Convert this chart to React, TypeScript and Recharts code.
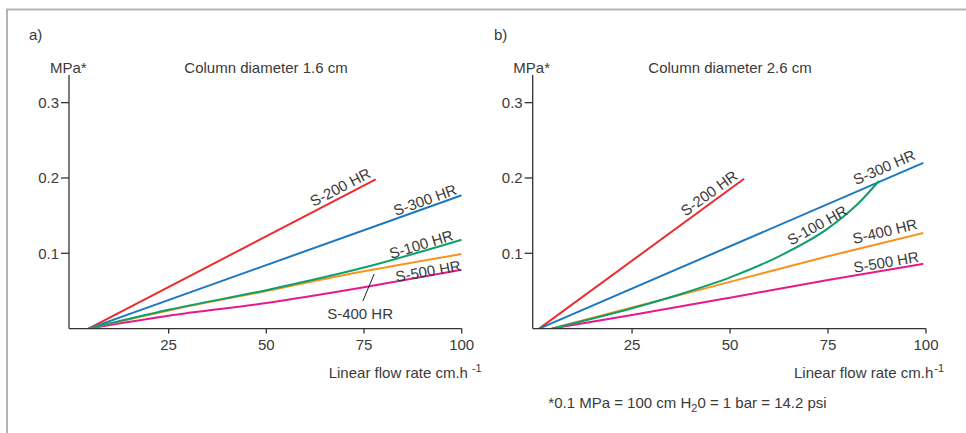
import React from 'react';
import { LineChart, Line, XAxis, YAxis, ReferenceDot, ReferenceLine } from 'recharts';

// ---- panel a: column diameter 1.6 cm ----
const a200Flow = [4.5, 78];
const a200Mpa = [0, 0.198];
const a300Flow = [4.5, 100];
const a300Mpa = [0, 0.177];
const a100Flow = [4.5, 25, 50, 75, 100];
const a100Mpa = [0, 0.025, 0.051, 0.081, 0.118];
const a400Flow = [4.5, 25, 50, 75, 100];
const a400Mpa = [0, 0.024, 0.05, 0.076, 0.099];
const a500Flow = [4.5, 25, 50, 75, 100];
const a500Mpa = [0, 0.017, 0.034, 0.055, 0.078];

// ---- panel b: column diameter 2.6 cm ----
const b200Flow = [1.3, 53.6];
const b200Mpa = [0, 0.199];
const b300Flow = [1.3, 99.3];
const b300Mpa = [0, 0.22];
const b100Flow = [4.5, 25, 37.5, 50, 62.5, 75, 82.5, 88];
const b100Mpa = [0, 0.027, 0.046, 0.068, 0.096, 0.133, 0.165, 0.196];
const b400Flow = [4.5, 25, 50, 75, 99.3];
const b400Mpa = [0, 0.028, 0.062, 0.096, 0.127];
const b500Flow = [4.5, 25, 50, 75, 99.3];
const b500Mpa = [0, 0.018, 0.041, 0.0645, 0.086];

const xTicks = [25, 50, 75, 100];
const yTicks = [0.1, 0.2, 0.3];

const FONT = '"Liberation Sans", Arial, Helvetica, sans-serif';
const TEXT = '#3a3a3a';
const AXIS = '#333';
const RED = '#ee2a2e';
const BLUE = '#1b78c0';
const GREEN = '#0e9f6b';
const ORANGE = '#f7941d';
const MAGENTA = '#e8198b';

const pts = (xs: number[], ys: number[]) => xs.map((x, i) => ({ x, y: ys[i] }));

const seriesA = [
  { name: 'S-200 HR', color: RED, data: pts(a200Flow, a200Mpa) },
  { name: 'S-300 HR', color: BLUE, data: pts(a300Flow, a300Mpa) },
  { name: 'S-500 HR', color: MAGENTA, data: pts(a500Flow, a500Mpa) },
  { name: 'S-400 HR', color: ORANGE, data: pts(a400Flow, a400Mpa) },
  { name: 'S-100 HR', color: GREEN, data: pts(a100Flow, a100Mpa) },
];

const seriesB = [
  { name: 'S-200 HR', color: RED, data: pts(b200Flow, b200Mpa) },
  { name: 'S-300 HR', color: BLUE, data: pts(b300Flow, b300Mpa) },
  { name: 'S-500 HR', color: MAGENTA, data: pts(b500Flow, b500Mpa) },
  { name: 'S-400 HR', color: ORANGE, data: pts(b400Flow, b400Mpa) },
  { name: 'S-100 HR', color: GREEN, data: pts(b100Flow, b100Mpa) },
];

// curve labels: centre in data units + rotation
const labelsA = [
  { text: 'S-200 HR', x: 68.9, y: 0.188, deg: -27.6 },
  { text: 'S-300 HR', x: 90.6, y: 0.171, deg: -19.7 },
  { text: 'S-100 HR', x: 89.6, y: 0.112, deg: -17 },
  { text: 'S-500 HR', x: 91.4, y: 0.0765, deg: -10 },
  { text: 'S-400 HR', x: 74.0, y: 0.0207, deg: 0 },
];
const labelsB = [
  { text: 'S-200 HR', x: 44.6, y: 0.18, deg: -36 },
  { text: 'S-300 HR', x: 89.3, y: 0.2145, deg: -23.4 },
  { text: 'S-100 HR', x: 72.2, y: 0.1375, deg: -29 },
  { text: 'S-400 HR', x: 89.5, y: 0.1296, deg: -13.3 },
  { text: 'S-500 HR', x: 89.8, y: 0.0886, deg: -9.7 },
];

const RotLabel = (props: any) => {
  const { viewBox, caption, deg } = props;
  const x = viewBox.x + (viewBox.width || 0) / 2;
  const y = viewBox.y + (viewBox.height || 0) / 2;
  return (
    <text
      x={x}
      y={y}
      transform={`rotate(${deg} ${x} ${y})`}
      textAnchor="middle"
      dominantBaseline="central"
      fill={TEXT}
      fontSize={15}
      fontFamily={FONT}
    >
      {caption}
    </text>
  );
};

const Panel = ({ series, labels, xDomain, yWidth, left, width, marginLeft, marginRight, leader }: any) => (
  <div style={{ position: 'absolute', left, top: 0 }}>
    <LineChart
      width={width}
      height={433}
      margin={{ top: 75, right: marginRight, bottom: 74.4, left: marginLeft }}
    >
      <XAxis
        type="number"
        dataKey="x"
        domain={xDomain}
        ticks={xTicks}
        allowDataOverflow
        height={30}
        tickSize={5}
        tickMargin={6}
        axisLine={{ stroke: AXIS, strokeWidth: 1.3 }}
        tickLine={{ stroke: AXIS, strokeWidth: 1.3 }}
        tick={{ fill: TEXT, fontSize: 15, fontFamily: FONT }}
      />
      <YAxis
        type="number"
        domain={[0, 0.3367]}
        ticks={yTicks}
        allowDataOverflow
        width={yWidth}
        tickSize={8}
        tickMargin={2}
        axisLine={{ stroke: AXIS, strokeWidth: 1.3 }}
        tickLine={{ stroke: AXIS, strokeWidth: 1.3 }}
        tick={{ fill: TEXT, fontSize: 15, fontFamily: FONT }}
      />
      {series.map((s: any) => (
        <Line
          key={s.name}
          data={s.data}
          dataKey="y"
          type="monotone"
          stroke={s.color}
          strokeWidth={2}
          dot={false}
          activeDot={false}
          isAnimationActive={false}
        />
      ))}
      {leader && (
        <ReferenceLine
          segment={leader}
          stroke="#222"
          strokeWidth={1}
        />
      )}
      {labels.map((l: any) => (
        <ReferenceDot
          key={l.text}
          x={l.x}
          y={l.y}
          r={0}
          fill="none"
          stroke="none"
          label={<RotLabel caption={l.text} deg={l.deg} />}
        />
      ))}
    </LineChart>
  </div>
);

const txt = { fill: TEXT, fontSize: 15, fontFamily: FONT } as const;

export default function App() {
  return (
    <div style={{ position: 'absolute', left: 0, top: 0, width: 966, height: 433, background: '#fff', overflow: 'hidden' }}>
      <Panel
        series={seriesA}
        labels={labelsA}
        xDomain={[-0.5, 100]}
        yWidth={60}
        left={0}
        width={480}
        marginLeft={9}
        marginRight={18.3}
        leader={[{ x: 77.6, y: 0.0725 }, { x: 74.7, y: 0.0366 }]}
      />
      <Panel
        series={seriesB}
        labels={labelsB}
        xDomain={[-0.35, 100]}
        yWidth={50}
        left={480}
        width={486}
        marginLeft={2.7}
        marginRight={40}
      />
      <svg width={966} height={433} style={{ position: 'absolute', left: 0, top: 0, pointerEvents: 'none' }}>
        <line x1={6} y1={9.5} x2={966} y2={9.5} stroke="#b3b3b3" strokeWidth={2} />
        <line x1={7} y1={9} x2={7} y2={433} stroke="#b3b3b3" strokeWidth={2} />

        <text x={29} y={40} {...txt}>a)</text>
        <text x={50} y={73.3} {...txt}>MPa*</text>
        <text x={184.3} y={73.3} {...txt}>Column diameter 1.6 cm</text>
        <text x={328.7} y={378.4} {...txt}>
          Linear flow rate cm.h
          <tspan fontSize={11} dx={4} dy={-6}>-1</tspan>
        </text>

        <text x={494} y={40} {...txt}>b)</text>
        <text x={513.3} y={73.3} {...txt}>MPa*</text>
        <text x={648.3} y={73.3} {...txt}>Column diameter 2.6 cm</text>
        <text x={794} y={378.4} {...txt}>
          Linear flow rate cm.h
          <tspan fontSize={11} dx={1} dy={-6}>-1</tspan>
        </text>

        <text x={548.3} y={407.7} {...txt}>
          *0.1 MPa = 100 cm H
          <tspan fontSize={11} dy={4}>2</tspan>
          <tspan dy={-4}>0 = 1 bar = 14.2 psi</tspan>
        </text>
      </svg>
    </div>
  );
}
